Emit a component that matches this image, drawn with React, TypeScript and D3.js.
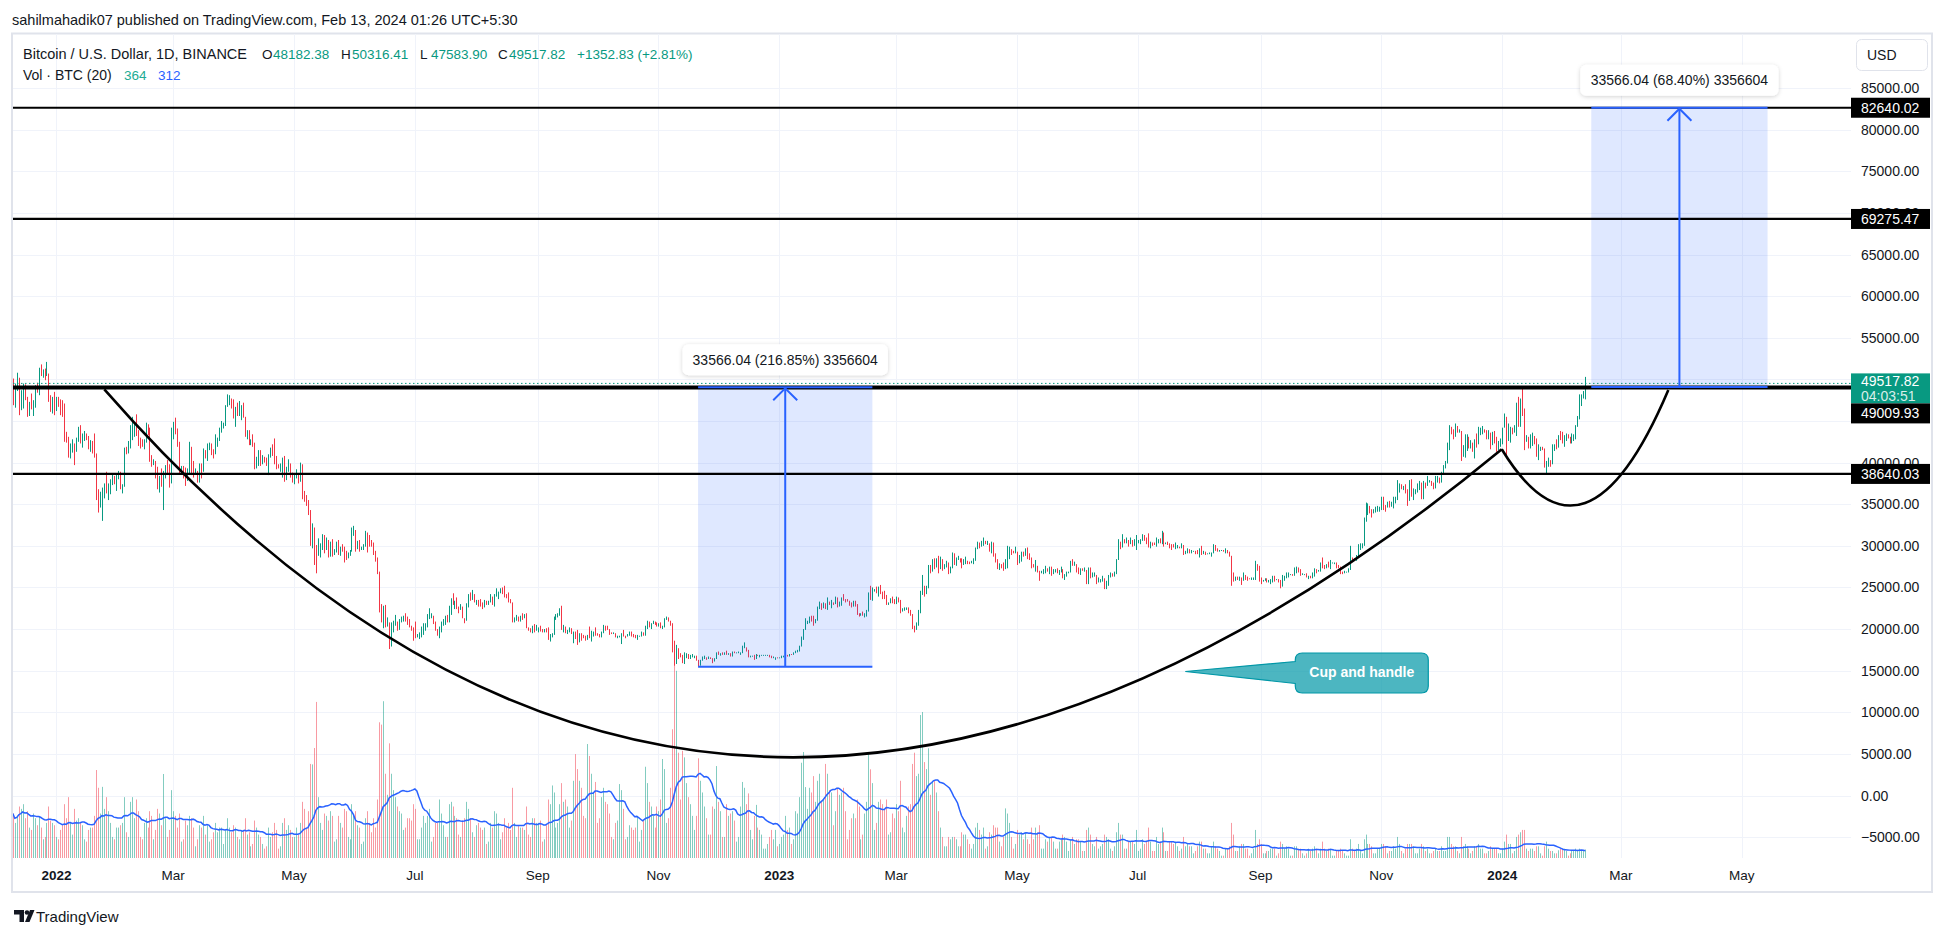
import React, { useMemo } from "react";
import * as d3 from "d3";

// ---------- DATA (prices in thousands of USD, volumes in BTC) ----------
const MONTH_STARTS = [
  "2021-12-10", "2022-01-01", "2022-02-01", "2022-03-01", "2022-04-01", "2022-05-01", "2022-06-01",
  "2022-07-01", "2022-08-01", "2022-09-01", "2022-10-01", "2022-11-01", "2022-12-01",
  "2023-01-01", "2023-02-01", "2023-03-01", "2023-04-01", "2023-05-01", "2023-06-01",
  "2023-07-01", "2023-08-01", "2023-09-01", "2023-10-01", "2023-11-01", "2023-12-01",
  "2024-01-01", "2024-02-01",
];
const FIRST_OPEN_K = 47.6;

const CLOSE_K = [
  [47.1,49.4,50.1,46.7,48.3,48.9,47.6,46.2,46.8,46.7,46.9,49.0,48.6,50.8,50.4,50.8,50.7,50.7,47.5,46.5,47.1,46.2],
  [47.7,47.3,46.4,45.8,43.4,43.1,41.5,41.7,41.9,41.8,42.7,43.9,42.6,43.1,43.2,43.1,42.2,42.4,41.7,40.7,36.4,35.1,36.3,36.7,36.9,36.8,37.2,37.7,38.2,37.9,38.5],
  [38.7,37.0,37.3,41.6,41.4,42.4,43.8,44.1,44.4,43.6,42.4,42.2,42.1,42.6,44.6,43.9,40.6,40.0,40.1,38.4,37.0,38.3,37.3,38.3,39.2,39.1,37.7,43.2],
  [44.4,44.0,42.5,39.1,39.4,38.4,37.9,38.7,41.9,39.4,38.8,38.8,37.8,39.7,39.3,41.1,40.9,41.8,42.2,41.3,41.0,42.4,42.9,44.0,44.3,44.5,46.8,47.1,47.5,47.1,45.5],
  [46.3,45.8,46.4,46.6,45.5,43.2,43.4,42.3,42.8,42.2,39.5,40.1,41.1,40.0,40.6,40.4,39.7,40.8,41.5,41.4,40.5,39.7,39.5,39.5,40.4,38.1,39.2,39.7,38.6,37.7],
  [38.5,38.5,37.7,39.7,36.6,36.0,35.5,34.1,30.1,31.0,29.1,29.0,29.3,30.1,31.3,29.9,30.4,28.7,30.3,29.2,29.4,30.3,29.1,29.7,29.5,29.2,28.6,29.0,29.4,31.7,31.8],
  [29.8,30.5,29.7,29.9,29.9,31.4,31.1,30.2,30.1,29.1,28.4,26.6,22.5,22.2,22.6,20.4,20.5,19.0,20.6,20.6,20.7,20.0,21.1,21.2,21.5,21.0,20.7,20.3,20.1,19.9],
  [19.3,19.3,19.3,20.2,20.2,20.5,21.6,21.6,21.6,20.8,19.9,19.3,20.2,20.6,20.8,21.2,20.8,22.4,23.4,23.2,23.2,22.7,22.5,22.6,21.3,21.0,22.9,23.8,23.6,23.6,23.3],
  [23.3,23.0,22.8,22.6,23.3,23.2,23.2,23.8,23.2,23.9,23.9,24.4,24.4,24.3,24.1,23.9,23.3,23.2,20.8,21.1,21.5,21.4,21.5,21.4,21.6,20.2,20.0,19.6,20.3,19.8,20.0],
  [20.1,19.9,19.8,20.0,19.8,18.8,19.3,19.3,21.4,21.6,21.8,22.4,20.2,20.2,19.7,19.8,20.1,19.4,19.5,18.9,18.5,19.4,19.3,18.9,18.8,19.2,19.1,19.4,19.6,19.4],
  [19.3,19.0,19.6,20.3,20.2,19.9,19.5,19.4,19.4,19.1,19.1,19.2,19.4,19.2,19.1,19.3,19.5,19.3,19.1,19.0,19.2,19.2,19.6,19.3,20.1,20.8,20.3,20.6,20.8,20.6,20.5],
  [20.5,20.2,20.2,21.1,21.3,20.9,20.6,18.5,15.9,17.6,17.1,16.8,16.3,16.6,16.9,16.7,16.7,16.7,16.7,16.3,15.8,16.2,16.6,16.6,16.5,16.5,16.4,16.2,16.4,17.2],
  [17.0,17.1,16.9,17.1,17.0,17.1,16.8,17.2,17.1,17.1,17.1,17.2,17.8,17.8,17.4,16.6,16.8,16.8,16.4,16.9,16.8,16.8,16.8,16.8,16.8,16.9,16.7,16.5,16.6,16.6,16.5],
  [16.6,16.7,16.7,16.9,16.8,17.0,16.9,17.1,17.2,17.4,17.9,18.8,19.9,20.9,20.9,21.2,21.1,20.7,21.1,22.7,22.8,22.7,22.9,22.6,23.1,23.0,23.1,23.0,23.7,22.8,23.1],
  [23.7,23.5,23.4,23.3,22.9,22.8,23.2,22.9,21.8,21.6,21.9,21.8,21.8,22.2,24.3,23.5,24.6,24.6,24.3,24.8,24.4,24.2,23.9,23.2,23.2,23.6,23.5,23.1],
  [23.6,23.5,22.4,22.4,22.4,22.4,22.2,21.7,20.4,20.2,20.6,22.2,24.1,24.7,24.3,25.0,27.4,26.9,28.0,27.8,28.2,27.3,28.3,27.5,27.5,28.0,27.1,27.3,28.3,28.0,28.5],
  [28.5,28.2,27.8,28.2,28.2,28.0,27.9,28.0,28.3,29.7,30.2,30.0,30.4,30.5,30.3,30.3,29.4,30.4,28.8,28.2,27.3,27.8,27.6,27.5,28.3,28.4,29.5,29.3,29.2,29.2],
  [28.1,28.7,29.0,28.8,29.5,28.9,28.4,27.7,27.6,27.6,27.0,26.8,26.8,26.9,27.2,27.0,27.4,26.8,26.9,27.1,26.7,26.8,27.2,26.3,26.5,26.7,26.9,28.1,27.7,27.7,27.2],
  [26.8,27.2,27.1,27.1,25.8,27.2,26.3,26.5,26.5,25.8,25.9,25.9,25.9,25.1,25.6,26.3,26.5,26.3,26.8,28.3,30.0,29.9,30.7,30.5,30.5,30.3,30.7,30.1,30.4,30.5],
  [30.6,30.6,31.2,31.0,30.8,29.9,30.3,30.2,30.1,30.4,30.6,30.4,31.5,30.3,30.3,30.2,30.1,29.9,29.8,29.9,29.9,29.8,30.1,29.2,29.2,29.4,29.2,29.3,29.4,29.3,29.2],
  [29.7,29.2,29.2,29.1,29.1,29.1,29.2,29.8,29.6,29.4,29.4,29.4,29.3,29.4,29.2,28.7,26.6,26.1,26.2,26.1,26.2,26.0,26.4,26.2,26.1,26.0,26.1,26.1,27.7,27.3,26.0],
  [25.8,25.9,26.0,25.8,25.8,25.8,26.2,25.9,25.9,25.8,25.2,25.8,26.2,26.5,26.6,26.6,26.5,26.8,27.2,27.1,26.6,26.6,26.6,26.3,26.3,26.2,26.4,27.0,26.9,27.0],
  [28.0,27.5,27.4,27.8,27.4,27.9,27.9,27.9,27.6,27.4,26.9,26.8,26.9,26.9,27.2,28.5,28.4,28.3,28.7,29.7,30.0,30.0,33.1,33.9,34.5,34.2,33.9,34.1,34.5,34.5,34.7],
  [35.4,34.9,34.7,35.1,35.0,35.0,35.4,35.6,36.7,37.3,37.1,37.1,36.5,35.5,37.9,36.2,36.6,36.6,37.4,37.5,35.8,37.4,37.3,37.7,37.8,37.5,37.2,37.8,37.9,37.7],
  [38.7,39.5,39.9,42.0,44.1,43.8,43.3,44.2,43.7,43.8,41.2,41.5,42.9,43.0,41.9,42.3,41.4,42.7,42.3,43.7,43.9,44.0,43.7,43.0,43.6,42.5,43.4,42.6,42.1,42.1,42.3],
  [44.2,44.9,42.8,44.2,44.2,43.9,43.9,47.0,46.1,46.6,46.3,42.8,42.9,41.7,42.5,43.1,42.7,41.3,41.6,41.7,41.6,39.5,39.8,40.1,39.9,41.8,42.1,42.0,43.3,42.9,42.6],
  [43.1,43.2,43.0,42.6,42.7,43.1,44.3,45.3,47.1,47.8,48.2,49.5178],
];

const HIGH_K = [
  [50.1,49.5,50.8,50.2,48.7,49.5,49.4,47.9,47.3,48.3,47.5,49.3,49.6,51.4,51.8,51.2,51.3,52.1,50.7,48.1,47.9,48.5],
  [47.9,47.9,47.6,47.5,47.1,43.7,43.1,42.3,42.8,42.3,43.0,44.3,44.5,43.5,43.8,43.5,43.2,42.7,42.6,43.5,41.1,36.8,36.5,37.0,37.5,38.9,37.5,38.0,38.7,38.4,38.7],
  [39.0,38.9,37.4,41.8,41.9,42.6,44.5,45.5,44.8,45.8,43.9,43.0,42.8,42.8,44.8,44.6,44.2,40.9,40.4,40.2,39.5,38.4,39.3,39.0,39.7,40.3,39.8,44.2],
  [44.9,45.4,44.1,42.5,39.6,39.6,39.4,39.3,42.5,41.9,40.2,39.3,39.0,39.9,39.9,41.7,41.5,42.3,42.4,42.3,41.6,43.4,43.0,44.2,45.0,44.8,46.9,48.2,48.1,47.7,47.6],
  [46.7,47.2,47.4,46.9,47.2,45.5,43.9,43.9,42.8,43.4,42.4,40.7,41.5,41.5,40.9,40.7,40.6,41.0,41.8,42.2,42.9,40.8,39.8,39.9,40.6,40.8,39.5,40.4,39.9,38.8],
  [38.7,39.2,38.6,40.0,39.8,36.6,36.1,35.5,34.3,32.7,32.2,30.1,30.9,30.3,31.4,31.3,31.0,30.7,30.5,30.8,29.6,30.5,30.7,29.9,30.2,29.9,29.4,29.2,29.5,32.2,32.4],
  [31.9,30.6,30.7,29.9,30.2,31.8,31.6,31.3,30.7,30.4,29.4,28.6,26.9,23.0,22.8,22.9,21.4,20.8,20.8,21.0,21.7,20.9,21.2,21.5,21.6,21.9,21.5,21.2,20.4,20.2],
  [20.9,19.4,19.6,20.3,20.7,20.7,21.8,22.5,21.9,21.6,20.9,20.0,20.3,20.9,21.2,21.6,21.7,22.8,23.7,24.3,23.4,23.8,22.7,23.0,22.7,21.3,23.1,24.2,24.4,24.7,24.2],
  [23.5,23.5,23.6,23.2,23.5,23.4,23.4,24.2,23.9,24.2,24.9,24.5,24.9,25.0,25.2,24.2,24.4,23.6,23.2,21.4,21.7,21.5,21.6,21.9,21.8,21.9,20.2,20.1,20.4,20.6,20.5],
  [20.2,20.4,20.0,20.0,20.1,20.2,19.4,19.5,21.5,21.8,21.9,22.5,22.8,20.5,20.3,19.9,20.2,20.1,19.7,19.7,19.9,19.5,19.5,19.3,19.2,19.3,20.3,19.8,19.7,20.2],
  [19.5,19.4,19.7,20.5,20.4,20.4,20.0,19.6,19.6,19.5,19.2,19.2,19.5,19.9,19.2,19.4,19.7,19.7,19.4,19.3,19.3,19.2,19.7,19.6,20.4,21.0,20.9,20.7,21.0,20.9,20.8],
  [20.7,20.8,20.4,21.3,21.5,21.4,21.0,20.7,18.6,18.1,17.7,17.1,16.9,17.2,17.1,17.0,16.9,17.0,16.8,16.8,16.3,16.3,16.7,16.8,16.6,16.7,16.6,16.5,16.5,17.2],
  [17.3,17.1,17.2,17.2,17.4,17.1,17.1,17.3,17.3,17.2,17.3,17.2,18.0,18.4,17.8,17.5,16.8,16.8,16.9,17.0,16.9,16.9,16.9,16.9,16.9,16.9,16.9,16.8,16.7,16.6,16.6],
  [16.6,16.8,16.8,17.1,16.9,17.0,17.0,17.2,17.4,17.5,18.0,19.1,20.0,21.3,21.0,21.5,21.6,21.6,21.2,22.7,23.3,23.1,23.2,23.1,23.8,23.3,23.5,23.2,23.9,23.8,23.3],
  [23.8,24.2,23.6,23.6,23.4,23.2,23.4,23.4,23.0,21.9,21.9,22.1,21.9,22.3,24.4,25.2,25.0,24.8,25.1,25.1,25.3,24.5,24.6,24.1,23.2,23.7,23.9,23.6],
  [23.9,23.8,23.5,22.5,22.6,22.6,22.6,22.3,21.8,20.3,20.8,22.3,24.6,26.5,25.2,25.2,27.7,27.7,28.4,28.5,28.5,28.8,28.7,28.4,27.8,28.2,28.0,27.5,29.2,29.1,28.6],
  [28.8,28.5,28.5,28.4,28.7,28.2,28.1,28.2,28.5,29.8,30.5,30.4,30.6,31.0,30.6,30.6,30.3,30.5,30.4,29.1,28.4,27.9,27.8,28.0,28.4,30.0,29.9,29.6,29.4,29.9],
  [29.3,28.9,29.3,29.3,29.7,29.8,29.1,28.6,27.8,28.3,27.6,27.0,27.0,27.2,27.6,27.3,27.5,27.5,27.2,27.2,27.3,27.1,27.5,27.2,26.6,26.9,26.9,28.2,28.4,28.1,27.8],
  [27.4,27.3,27.3,27.4,27.1,27.4,27.4,26.8,26.8,26.5,26.2,26.0,26.4,26.1,25.8,26.5,26.8,26.7,26.9,28.4,30.8,30.5,31.4,30.8,31.0,30.7,31.0,30.7,30.8,31.3],
  [30.7,30.8,31.4,31.3,31.0,31.5,30.5,30.4,30.4,31.0,30.8,30.9,31.8,31.6,30.4,30.5,30.3,30.2,30.2,30.4,30.1,29.9,30.3,30.1,29.4,29.7,29.6,29.5,29.4,29.4,29.5],
  [29.7,30.0,29.4,29.3,29.1,29.2,29.2,30.2,30.1,29.7,29.5,29.5,29.5,29.7,29.5,29.3,28.8,26.8,26.3,26.3,26.3,26.2,26.8,26.5,26.3,26.1,26.2,26.2,28.2,27.8,27.6],
  [26.2,25.9,26.1,26.1,25.9,26.0,26.4,26.4,26.0,26.0,25.9,26.5,26.4,26.8,26.8,26.6,26.6,27.4,27.5,27.4,27.2,26.7,26.6,26.7,26.4,26.4,26.8,27.3,27.2,27.1],
  [28.0,28.6,27.7,27.8,28.1,28.3,28.0,28.0,28.0,27.7,27.5,26.9,27.0,26.9,27.3,30.0,28.6,28.5,28.9,30.2,30.3,30.3,33.4,35.2,35.1,34.8,34.4,34.4,34.7,34.8,34.7],
  [35.9,35.9,34.9,35.3,35.4,35.3,35.9,35.9,37.9,37.5,37.4,37.2,37.4,36.8,37.9,38.0,36.9,36.8,37.5,37.8,37.6,37.8,37.6,38.4,37.9,37.8,37.6,38.4,38.4,38.2],
  [38.9,39.7,40.2,42.4,44.5,44.3,44.0,44.7,44.4,44.0,43.8,42.1,43.4,43.4,43.1,42.7,42.4,42.8,43.5,44.3,44.2,44.4,44.0,43.9,43.9,43.6,43.7,43.8,43.1,42.6,42.9],
  [44.2,45.9,45.5,44.7,44.3,44.2,44.5,47.2,47.9,47.7,49.0,46.5,43.3,43.1,43.4,43.6,43.2,42.9,42.2,41.9,41.9,41.7,40.2,40.6,40.3,42.2,42.2,42.8,43.3,43.8,43.7],
  [43.3,43.5,43.4,43.1,43.5,43.4,44.5,45.6,48.2,48.2,48.6,50.3],
];

const LOW_K = [
  [46.9,46.6,48.6,45.7,46.3,46.5,47.5,45.5,45.6,46.4,45.6,46.6,48.4,48.1,50.4,50.2,49.9,50.4,47.3,46.1,45.9,45.7],
  [46.2,46.7,45.7,45.5,42.5,42.4,40.6,40.5,41.2,39.7,41.3,42.5,42.3,41.8,42.6,42.7,41.6,41.3,41.1,40.6,35.5,34.0,34.6,33.0,35.7,36.3,35.5,36.2,37.3,37.4,36.6],
  [38.0,36.8,36.3,37.1,41.0,41.1,41.7,42.7,43.1,43.2,42.0,41.7,41.9,41.6,42.4,43.3,40.1,39.5,39.7,38.1,36.8,36.4,37.1,34.3,38.1,38.6,37.0,37.5],
  [42.8,43.4,41.9,38.6,38.6,38.1,37.2,37.8,38.6,38.5,38.2,38.7,37.6,37.6,38.1,38.9,40.5,40.2,41.5,40.9,40.5,41.0,41.9,42.6,43.6,44.1,44.4,46.7,46.9,46.5,45.3],
  [44.3,45.6,45.6,45.1,45.4,43.1,42.8,42.1,42.1,41.9,39.2,39.3,39.6,39.6,39.8,40.0,39.6,38.5,40.6,40.8,39.8,39.2,39.3,38.9,38.2,37.7,37.9,38.9,38.2,37.6],
  [37.4,38.1,37.5,37.7,35.6,35.3,34.8,33.7,30.0,29.7,27.7,26.7,28.8,28.6,29.5,29.1,29.5,28.6,28.7,28.7,28.9,29.2,28.9,28.8,29.3,28.0,28.3,28.5,28.8,29.3,31.2],
  [29.3,29.6,29.3,29.5,29.5,29.9,29.2,29.9,29.9,28.9,28.1,26.6,22.0,20.8,20.1,20.2,20.3,17.6,17.9,19.6,20.4,19.8,19.9,20.8,20.9,20.9,20.5,20.2,19.8,18.6],
  [18.9,19.0,18.8,19.0,19.3,19.8,20.2,21.2,21.3,20.6,19.8,19.2,18.9,19.6,20.4,20.5,20.8,20.8,21.7,22.9,22.4,22.4,21.9,22.3,21.3,20.7,21.0,22.6,23.4,23.5,23.2],
  [22.9,22.7,22.7,22.4,22.6,22.9,22.9,23.2,22.9,22.7,23.9,23.6,24.3,24.2,23.8,23.7,23.2,23.1,20.8,20.8,21.0,20.9,20.9,21.1,21.3,20.1,19.8,19.6,19.5,19.6,19.8],
  [19.6,19.7,19.6,19.6,19.6,18.7,18.5,19.0,19.3,21.1,21.4,21.6,19.9,19.6,19.5,19.4,19.6,19.4,18.3,18.8,18.1,18.4,18.6,18.9,18.6,18.7,18.9,18.5,19.1,19.2],
  [19.2,19.0,19.0,19.5,19.8,19.9,19.3,19.4,19.4,19.0,18.9,19.0,18.2,19.1,18.9,19.1,19.2,19.1,19.0,18.9,18.7,19.1,19.1,19.2,19.2,20.0,20.2,20.0,20.6,20.5,20.3],
  [20.3,20.1,20.0,20.2,21.1,20.9,20.4,17.2,15.6,15.8,16.4,16.6,15.9,15.8,16.5,16.4,16.4,16.6,16.5,16.2,15.5,15.6,16.2,16.4,16.3,16.4,16.4,15.9,16.1,16.4],
  [16.9,16.8,16.9,16.9,16.9,16.9,16.7,16.7,17.1,17.1,17.1,16.9,17.1,17.7,17.3,16.6,16.6,16.7,16.3,16.4,16.8,16.6,16.8,16.8,16.8,16.8,16.6,16.5,16.5,16.3,16.5],
  [16.5,16.5,16.6,16.7,16.7,16.7,16.9,16.9,17.1,17.2,17.3,17.9,18.7,19.9,20.6,20.7,20.9,20.4,20.7,21.0,22.4,22.3,22.5,22.4,22.3,22.9,22.5,22.9,23.0,22.6,22.7],
  [22.8,23.4,23.2,23.3,22.8,22.6,22.7,22.7,21.7,21.5,21.6,21.6,21.4,21.5,22.1,23.5,23.4,24.5,24.3,23.9,24.2,23.6,23.6,22.9,22.9,23.1,23.1,23.0],
  [23.0,23.2,21.9,22.1,22.2,22.3,21.9,21.6,20.0,19.6,19.9,20.4,21.9,24.1,23.9,24.2,24.9,26.7,26.9,27.2,27.4,26.7,27.2,27.0,27.2,27.4,26.6,26.7,27.3,27.7,27.6],
  [28.3,28.0,27.3,27.7,27.8,27.8,27.8,27.9,27.8,28.2,29.6,29.7,29.9,30.0,30.2,30.1,29.3,29.1,28.7,28.0,27.2,27.1,27.3,27.0,27.2,27.3,28.4,28.9,29.1,29.1],
  [27.7,27.9,28.1,28.7,28.8,28.4,28.3,27.3,27.4,26.9,26.8,25.8,26.7,26.6,26.7,26.9,26.6,26.4,26.6,26.8,26.7,26.5,26.8,26.1,25.9,26.3,26.7,26.8,27.6,27.6,26.8],
  [26.6,26.5,27.0,26.9,25.4,25.4,26.1,26.2,26.3,25.4,25.6,25.6,25.7,24.8,24.8,25.2,26.2,26.3,26.3,26.6,28.3,29.6,29.8,30.3,30.3,29.9,30.2,29.9,30.0,29.5],
  [30.3,30.2,30.6,30.6,30.2,29.8,29.7,30.0,30.1,29.9,30.3,30.3,30.2,29.9,30.2,30.1,29.7,29.5,29.8,29.6,29.7,29.7,29.7,28.9,29.0,29.1,29.1,29.1,29.3,29.0,29.0],
  [28.6,28.9,29.0,28.9,29.0,29.0,28.7,29.1,29.4,29.3,29.3,29.4,29.3,29.1,29.1,28.7,25.2,25.7,25.8,25.9,25.8,25.3,25.8,25.9,25.8,26.0,25.9,25.9,25.9,27.0,25.7],
  [25.4,25.7,25.8,25.6,25.6,25.4,25.6,25.7,25.9,25.6,24.9,25.1,25.8,26.1,26.2,26.5,26.4,26.4,26.7,26.8,26.4,26.5,26.5,26.2,26.0,26.1,26.1,26.3,26.7,26.9],
  [26.9,27.3,27.2,27.3,27.4,27.2,27.9,27.8,27.3,27.3,26.6,26.6,26.7,26.8,26.8,27.1,28.1,28.2,28.2,28.6,29.5,29.7,30.0,32.9,33.7,33.9,33.4,33.9,34.0,34.1,34.1],
  [34.3,34.3,34.1,34.6,34.6,34.7,34.5,35.1,35.5,36.4,36.8,36.7,36.3,34.8,35.4,35.9,35.5,36.2,36.4,36.7,35.6,35.6,36.9,37.2,37.6,37.2,36.8,36.9,37.6,37.5],
  [37.6,38.6,39.3,39.9,41.5,43.4,42.8,43.1,43.6,43.6,40.2,40.7,40.6,41.4,41.7,41.7,41.3,40.5,41.8,42.2,43.3,43.4,43.6,42.8,42.8,41.6,42.1,42.3,41.3,41.5,41.9],
  [42.2,44.2,40.8,42.6,42.4,43.4,43.6,43.2,44.3,44.3,45.6,41.5,42.5,41.7,41.7,42.0,42.2,40.7,40.3,41.4,41.5,39.4,38.6,39.5,39.5,39.8,41.4,41.6,41.8,42.7,42.3],
  [41.9,42.6,42.9,42.3,42.3,42.6,42.8,44.3,45.2,46.8,47.7,47.6],
];

const VOLUME = [
  [1900,1500,1800,2200,2100,2300,1700,2000,1300,1200,1900,1700,1400,1800,1300,800,900,1500,2200,1600,1500,1400],
  [900,800,1200,1400,2300,1700,2600,1500,1000,2100,1600,1700,1500,1400,800,700,1200,1300,1300,1800,3760,3000,1900,3040,2100,2600,2000,1500,900,800,1300],
  [1300,1400,1500,2600,1100,900,2400,2600,1700,2500,2000,900,800,1500,1700,1300,2000,1800,800,1200,2100,1900,1400,3590,1700,900,1200,2900],
  [2000,1800,1300,1900,700,800,1600,1400,1800,1700,1300,500,800,1400,1300,1800,1000,1400,700,800,1100,1500,1100,1300,1300,600,1200,1700,1300,1100,1400],
  [1300,900,800,1200,1200,1700,1000,1100,500,600,1600,1300,1000,900,600,400,500,1300,900,1100,1500,1200,400,500,1500,1700,1200,1400,1200,900],
  [900,1300,1000,1500,2400,2100,1300,2000,4020,4000,4700,6670,2600,1500,1200,1900,1800,1600,2000,1800,700,800,1800,1500,1300,2100,2000,900,800,2300,1800],
  [2000,1400,1300,600,700,1700,2000,1500,1100,1700,1300,2500,5800,5700,6700,3600,2700,4900,3600,2900,2600,2200,2000,1900,1200,1300,1700,1700,1600,2300],
  [2100,800,800,1300,1800,1500,1800,2100,700,900,1500,1500,2500,1900,1400,900,900,2300,2400,2200,1800,1700,1000,900,1600,1700,2400,2100,1700,1100,900],
  [1400,1500,1300,1200,1300,600,700,1500,1300,2000,1900,1500,800,1100,1700,1300,1500,1200,3000,1500,900,1400,1300,1300,1200,2200,1000,900,1700,1700,1500],
  [1500,1600,700,800,1400,2500,2300,3100,2800,1300,1500,2300,3200,2400,2500,2200,1300,1600,3300,4440,3800,3300,3000,1800,1700,4870,4360,3600,2800,3250],
  [1500,1700,2600,3000,2400,2300,1900,900,800,1500,1600,3160,2900,2100,800,900,1400,1300,1200,1300,1800,700,1200,1600,3900,3200,2400,2200,1800,1300,2200],
  [2000,2500,4230,3800,1500,1700,3000,5500,8300,8000,4500,2500,4580,4300,3200,2600,2300,1800,1200,1800,4260,3300,2800,2200,1700,1000,1000,2200,2100,3930],
  [2400,2000,900,900,2300,1800,1900,2000,1600,700,900,2200,3250,3000,2300,2760,1200,800,1800,2270,1300,1200,1000,400,400,600,900,1200,800,1200,500],
  [600,900,1000,1800,1200,1300,600,800,2000,1900,2600,4070,4530,3030,2100,3000,2800,3500,2400,3300,3600,2400,2500,4020,3600,2900,2800,1400,2000,3000,2700],
  [2800,3000,2000,800,1200,1700,1900,1700,2500,2200,800,1000,1900,2400,4440,3790,3200,1200,1500,2400,2500,2300,2100,2500,1000,1100,1900,1700],
  [2300,2000,3300,1300,1100,1800,2200,2300,4020,4500,3500,3600,6110,6240,4100,3800,4690,2700,3300,3330,2800,2000,1300,900,500,500,900,800,900,900,800],
  [500,500,1100,1000,1000,800,600,400,600,1300,1500,1200,1000,1300,400,500,1100,1000,1400,1300,1300,700,500,900,2120,1900,1500,900,400,600],
  [1200,1000,1100,800,1100,800,600,1300,800,1300,1100,1400,400,400,800,700,900,900,700,400,400,700,800,1000,900,700,300,800,900,600,800],
  [800,700,300,300,1200,1300,1000,600,500,900,400,500,600,1000,900,800,400,300,500,1100,1500,1000,1000,400,400,700,700,700,600,1200],
  [300,400,800,600,700,1300,700,300,300,900,600,700,1300,1100,300,300,700,700,600,700,500,300,400,900,500,600,500,500,200,300,500],
  [700,700,400,400,200,200,500,700,500,400,300,100,100,400,400,500,1500,1000,300,300,500,600,600,400,400,100,200,400,1200,600,800],
  [600,200,200,300,300,400,400,400,100,200,700,600,400,500,400,100,100,500,500,400,400,200,100,200,400,300,400,500,400,200],
  [400,700,400,300,400,400,100,100,300,300,400,300,200,100,100,800,400,300,400,600,300,200,800,1000,600,600,500,200,200,400,400],
  [600,600,500,200,300,300,500,400,900,600,300,200,400,600,600,600,500,200,200,400,600,500,300,400,200,200,300,400,300,300],
  [500,300,300,900,900,600,500,500,300,200,900,500,600,500,400,200,300,500,500,600,400,400,200,200,300,500,400,400,400,200,200],
  [400,700,1000,600,600,200,300,900,1000,1100,1200,1200,400,300,400,400,300,500,500,200,100,500,700,400,300,300,200,200,330,400,400],
  [400,300,100,200,300,300,400,350,400,300,300,364],
];

const VOL_MA_LENGTH = 20;

const PRICE_LABEL_TICKS = [85000, 80000, 75000, 70000, 65000, 60000, 55000, 40000, 35000, 30000, 25000, 20000, 15000, 10000, 5000, 0, -5000];
const GRID_PRICES = [85000, 80000, 75000, 70000, 65000, 60000, 55000, 50000, 45000, 40000, 35000, 30000, 25000, 20000, 15000, 10000, 5000, 0, -5000];

const TIME_TICKS = [
  { date: "2022-01-01", label: "2022", bold: true },
  { date: "2022-03-01", label: "Mar", bold: false },
  { date: "2022-05-01", label: "May", bold: false },
  { date: "2022-07-01", label: "Jul", bold: false },
  { date: "2022-09-01", label: "Sep", bold: false },
  { date: "2022-11-01", label: "Nov", bold: false },
  { date: "2023-01-01", label: "2023", bold: true },
  { date: "2023-03-01", label: "Mar", bold: false },
  { date: "2023-05-01", label: "May", bold: false },
  { date: "2023-07-01", label: "Jul", bold: false },
  { date: "2023-09-01", label: "Sep", bold: false },
  { date: "2023-11-01", label: "Nov", bold: false },
  { date: "2024-01-01", label: "2024", bold: true },
  { date: "2024-03-01", label: "Mar", bold: false },
  { date: "2024-05-01", label: "May", bold: false },
];

const LEVELS = [
  { price: 82640.02, width: 2.2 },
  { price: 69275.47, width: 2.2 },
  { price: 49009.93, width: 4 },
  { price: 38640.03, width: 2.4 },
];
const LAST_PRICE = 49517.82;
const COUNTDOWN = "04:03:51";

const RANGES = [
  { start: "2022-11-21", end: "2023-02-17", low: 15478.89, high: 49044.93, label: "33566.04 (216.85%) 3356604" },
  { start: "2024-02-15", end: "2024-05-14", low: 49073.98, high: 82640.02, label: "33566.04 (68.40%) 3356604" },
];

// Cup & handle curves (quadratic curves): [days after 2022-01-01, price USD] for start, control, end
const CUP_START = [24.2, 48810];
const CUP_CONTROL = [335.6, -35870];
const CUP_END = [729.8, 41600];
const HANDLE_START = [729.8, 41600];
const HANDLE_CONTROL = [771.9, 25150];
const HANDLE_END = [813.9, 48730];

const CALLOUT = { day: 570, price: 14900, text: "Cup and handle" };

const HEADER = "sahilmahadik07 published on TradingView.com, Feb 13, 2024 01:26 UTC+5:30";
const SYMBOL = "Bitcoin / U.S. Dollar, 1D, BINANCE";
const OHLC = [
  { k: "O", v: "48182.38" },
  { k: "H", v: "50316.41" },
  { k: "L", v: "47583.90" },
  { k: "C", v: "49517.82" },
];
const CHANGE = "+1352.83 (+2.81%)";
const VOL_LEGEND = { name: "Vol · BTC (20)", vol: "364", ma: "312" };

// ---------- RENDER ----------
const FONT = "'Liberation Sans', Arial, Helvetica, sans-serif";
const UP = "#089981";
const DOWN = "#f23645";
const BLUE = "#2962ff";
const TEXT = "#131722";
const GRID = "#f0f3fa";

const D = (s: string) => new Date(s + "T00:00:00Z");
const BASE = D("2022-01-01");
const dayToDate = (d: number) => new Date(BASE.getTime() + d * 864e5);

type Bar = { date: Date; o: number; h: number; l: number; c: number; v: number };

function buildBars(): Bar[] {
  const out: Bar[] = [];
  let prev = FIRST_OPEN_K;
  MONTH_STARTS.forEach((ms, mi) => {
    const start = D(ms);
    CLOSE_K[mi].forEach((c, j) => {
      const o = prev;
      const h = Math.max(HIGH_K[mi][j] ?? c, o, c);
      const l = Math.min(LOW_K[mi][j] ?? c, o, c);
      out.push({ date: d3.utcDay.offset(start, j), o: o * 1000, h: h * 1000, l: l * 1000, c: c * 1000, v: VOLUME[mi][j] ?? 0 });
      prev = c;
    });
  });
  return out;
}

export default function App() {
  const bars = useMemo(buildBars, []);

  const PL = 13, PR = 1851, PT = 34, PB = 858;
  const x = d3.scaleUtc().domain([D("2022-01-01"), D("2024-01-01")]).range([56.4, 56.4 + 730 * 1.9805]);
  const y = d3.scaleLinear().domain([0, 85000]).range([795.5, 88.1]);
  const vy = d3.scaleLinear().domain([0, 8000]).range([PB, PB - 187.2]);
  const fmt = d3.format(".2f");

  const ma = bars.map((b, i) => {
    const w = bars.slice(Math.max(0, i - VOL_MA_LENGTH + 1), i + 1);
    return [x(b.date), vy(d3.mean(w, (d) => d.v) as number)] as [number, number];
  });
  const maPath = d3.line().curve(d3.curveLinear)(ma) || "";

  const pt = (p: number[]) => [x(dayToDate(p[0])), y(p[1])];
  const quad = (a: number[], c: number[], b: number[]) => {
    const p = d3.path();
    const A = pt(a), C = pt(c), B = pt(b);
    p.moveTo(A[0], A[1]);
    p.quadraticCurveTo(C[0], C[1], B[0], B[1]);
    return p.toString();
  };
  const cupPath = quad(CUP_START, CUP_CONTROL, CUP_END);
  const handlePath = quad(HANDLE_START, HANDLE_CONTROL, HANDLE_END);

  const ax = x(dayToDate(CALLOUT.day));
  const ay = y(CALLOUT.price);
  const bx = ax + 110, by = ay - 18.5, bw = 133, bh = 40, r = 7;
  const calloutPath = `M${ax},${ay} L${bx},${ay - 10} L${bx},${by + r} Q${bx},${by} ${bx + r},${by} L${bx + bw - r},${by} Q${bx + bw},${by} ${bx + bw},${by + r} L${bx + bw},${by + bh - r} Q${bx + bw},${by + bh} ${bx + bw - r},${by + bh} L${bx + r},${by + bh} Q${bx},${by + bh} ${bx},${by + bh - r} L${bx},${ay + 12} Z`;

  const lastY = y(LAST_PRICE);

  return (
    <svg width={1946} height={937} style={{ position: "absolute", left: 0, top: 0, background: "#fff" }} fontFamily={FONT}>
      <defs>
        <clipPath id="plot">
          <rect x={PL} y={PT} width={PR - PL} height={PB - PT} />
        </clipPath>
        <filter id="shadow" x="-20%" y="-50%" width="140%" height="200%">
          <feDropShadow dx="0" dy="1" stdDeviation="2" floodColor="#000" floodOpacity="0.18" />
        </filter>
      </defs>
      <rect x={0} y={0} width={1946} height={937} fill="#fff" />

      {/* header */}
      <text x={12} y={20} fontSize={14.5} fill={TEXT} dominantBaseline="central">{HEADER}</text>

      {/* frame */}
      <rect x={12} y={33.5} width={1920} height={858.5} fill="none" stroke="#e0e3eb" strokeWidth={2} />

      <g clipPath="url(#plot)">
        {GRID_PRICES.map((p) => (
          <line key={"gp" + p} x1={PL} x2={PR} y1={Math.round(y(p)) + 0.5} y2={Math.round(y(p)) + 0.5} stroke={GRID} strokeWidth={1} />
        ))}
        {TIME_TICKS.map((t) => (
          <line key={"gt" + t.date} x1={Math.round(x(D(t.date))) + 0.5} x2={Math.round(x(D(t.date))) + 0.5} y1={PT} y2={PB} stroke={GRID} strokeWidth={1} />
        ))}

        {/* volume */}
        {bars.map((b, i) => {
          const bxp = Math.round(x(b.date));
          const top = vy(b.v);
          return (
            <rect key={"v" + i} x={bxp} y={top} width={1} height={PB - top}
              fill={b.c >= b.o ? "rgba(8,153,129,0.5)" : "rgba(242,54,69,0.5)"} />
          );
        })}
        <path d={maPath} fill="none" stroke={BLUE} strokeWidth={1.5} />

        {/* candles */}
        {bars.map((b, i) => {
          const bxp = Math.round(x(b.date));
          const t = y(b.h), bt = y(b.l);
          return (
            <rect key={"c" + i} x={bxp} y={t} width={1} height={Math.max(1, bt - t)} fill={b.c >= b.o ? UP : DOWN} />
          );
        })}

        {/* price range fills */}
        {RANGES.map((rg, i) => (
          <rect key={"rf" + i} x={x(D(rg.start))} y={y(rg.high)} width={x(D(rg.end)) - x(D(rg.start))} height={y(rg.low) - y(rg.high)} fill="rgba(41,98,255,0.15)" />
        ))}

        {/* horizontal levels */}
        {LEVELS.map((lv) => (
          <line key={"lv" + lv.price} x1={PL} x2={PR} y1={y(lv.price)} y2={y(lv.price)} stroke="#000" strokeWidth={lv.width} />
        ))}

        {/* current price dotted line */}
        <line x1={PL} x2={PR} y1={lastY} y2={lastY} stroke={UP} strokeWidth={1} strokeDasharray="1.5 2.5" />

        {/* cup and handle */}
        <path d={cupPath} fill="none" stroke="#000" strokeWidth={2.6} />
        <path d={handlePath} fill="none" stroke="#000" strokeWidth={2.6} />

        {/* price range edges and arrows */}
        {RANGES.map((rg, i) => {
          const x1 = x(D(rg.start)), x2 = x(D(rg.end));
          const cx = (x1 + x2) / 2;
          const yt = y(rg.high), yb = y(rg.low);
          return (
            <g key={"re" + i}>
              <line x1={x1} x2={x2} y1={yt} y2={yt} stroke={BLUE} strokeWidth={2} />
              <line x1={x1} x2={x2} y1={yb} y2={yb} stroke={BLUE} strokeWidth={2} />
              <line x1={cx} x2={cx} y1={yb} y2={yt + 1} stroke={BLUE} strokeWidth={2} />
              <polyline points={`${cx - 12},${yt + 13} ${cx},${yt + 1} ${cx + 12},${yt + 13}`} fill="none" stroke={BLUE} strokeWidth={2} />
            </g>
          );
        })}

        {/* callout */}
        <path d={calloutPath} fill="rgba(0,151,167,0.7)" stroke="#0097a7" strokeWidth={1.2} />
        <text x={bx + bw / 2} y={ay + 1} textAnchor="middle" dominantBaseline="central" fontSize={14} fontWeight={700} fill="#fff">{CALLOUT.text}</text>
      </g>

      {/* price range labels */}
      {RANGES.map((rg, i) => {
        const x1 = x(D(rg.start)), x2 = x(D(rg.end));
        const cx = (x1 + x2) / 2;
        const w = rg.label.length * 7.05 + 22;
        const top = y(rg.high) - 43;
        return (
          <g key={"rl" + i}>
            <rect x={cx - w / 2} y={top} width={w} height={31} rx={6} fill="#fff" filter="url(#shadow)" />
            <text x={cx} y={top + 15.5} textAnchor="middle" dominantBaseline="central" fontSize={14} fill={TEXT}>{rg.label}</text>
          </g>
        );
      })}

      {/* legend */}
      <g dominantBaseline="central">
        <text x={23} y={54} fill={TEXT} fontSize={14.5}>{SYMBOL}</text>
        {OHLC.map((o, i) => {
          const ox = [262, 341, 420, 498][i];
          return (
            <g key={o.k} fontSize={13.5}>
              <text x={ox} y={54} fill={TEXT}>{o.k}</text>
              <text x={ox + 11} y={54} fill={UP}>{o.v}</text>
            </g>
          );
        })}
        <text x={577} y={54} fill={UP} fontSize={13.5}>{CHANGE}</text>
        <text x={23} y={75} fill={TEXT} fontSize={14}>{VOL_LEGEND.name}</text>
        <text x={124} y={75} fill="#22ab94" fontSize={13.5}>{VOL_LEGEND.vol}</text>
        <text x={158} y={75} fill={BLUE} fontSize={13.5}>{VOL_LEGEND.ma}</text>
      </g>

      {/* price axis */}
      <g fontSize={14} dominantBaseline="central">
        {PRICE_LABEL_TICKS.map((p) => (
          <text key={"pl" + p} x={1861} y={y(p)} fill={TEXT}>{fmt(p)}</text>
        ))}
        {LEVELS.filter((l) => l.price !== 49009.93).map((lv) => (
          <g key={"lb" + lv.price}>
            <rect x={1851} y={y(lv.price) - 10} width={79} height={20} fill="#000" />
            <text x={1861} y={y(lv.price)} fill="#fff">{fmt(lv.price)}</text>
          </g>
        ))}
        <rect x={1851} y={lastY - 10} width={79} height={30} fill={UP} />
        <text x={1861} y={lastY - 2} fill="#fff">{fmt(LAST_PRICE)}</text>
        <text x={1861} y={lastY + 13} fill="#fff" fillOpacity={0.85}>{COUNTDOWN}</text>
        <rect x={1851} y={lastY + 20} width={79} height={20} fill="#000" />
        <text x={1861} y={lastY + 30} fill="#fff">{fmt(49009.93)}</text>
      </g>

      {/* currency button */}
      <rect x={1856.5} y={39.5} width={71} height={31} rx={5} fill="#fff" stroke="#e0e3eb" />
      <text x={1867} y={55} fontSize={14} fill={TEXT} dominantBaseline="central">USD</text>

      {/* time axis */}
      <g fontSize={13.5} dominantBaseline="central" textAnchor="middle">
        {TIME_TICKS.map((t) => (
          <text key={"tl" + t.date} x={x(D(t.date))} y={875} fill={TEXT} fontWeight={t.bold ? 700 : 400}>{t.label}</text>
        ))}
      </g>

      {/* TradingView logo */}
      <g fill={TEXT}>
        <path d="M14,910 h10 v12 h-4.5 v-7.5 h-5.5 z" />
        <circle cx={27} cy={912.5} r={2.3} />
        <path d="M30,910 h4.5 l-5,12 h-4.5 z" />
        <text x={36} y={916.5} fontSize={15} dominantBaseline="central">TradingView</text>
      </g>
    </svg>
  );
}
